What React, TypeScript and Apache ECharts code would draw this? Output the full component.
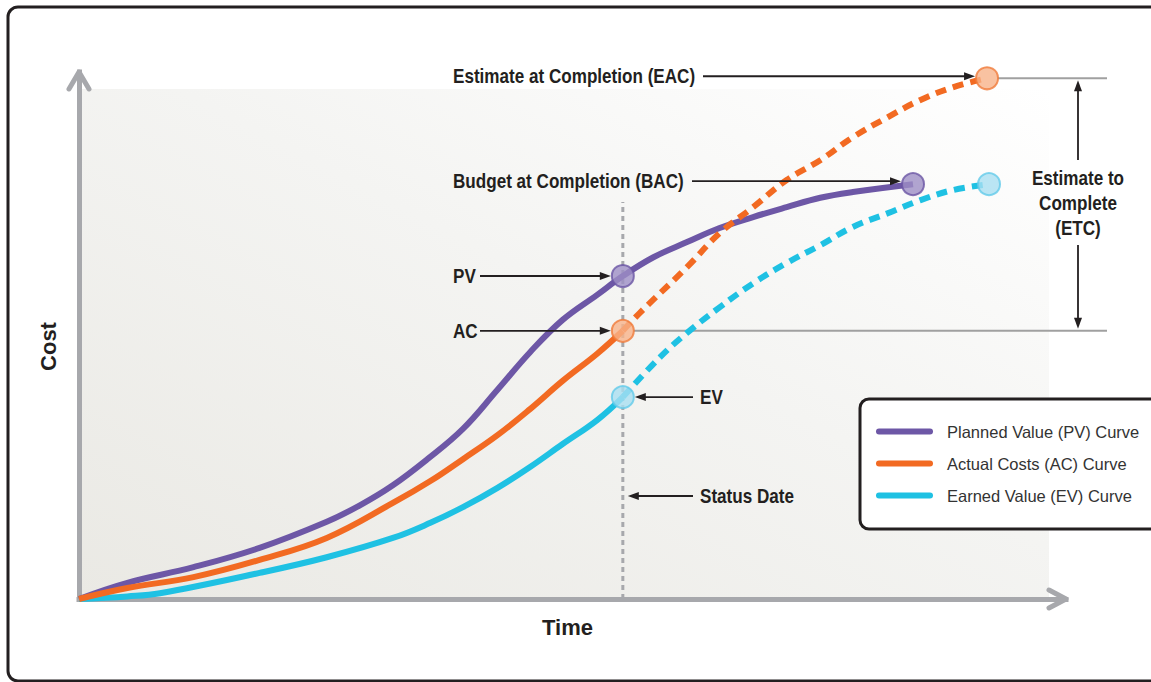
import React, { useEffect, useRef } from "react";
import * as echarts from "echarts";

// ---- data (time / cost units, 0..100 scale) ----
const pvTime = [0, 4.9, 11.6, 18.3, 25.1, 28.5, 31.8, 35.3, 38.9, 42.4, 45.7, 49.0, 52.5, 55.1, 58.2, 61.6, 64.9, 68.3, 71.7, 75.1, 78.4, 84.5];
const pvCost = [0, 3.1, 6.1, 9.8, 14.8, 18.0, 21.8, 26.8, 32.6, 40.1, 47.3, 53.5, 58.3, 61.9, 65.5, 68.4, 71.1, 73.2, 75.1, 76.9, 78.0, 79.5];

const acTime = [0, 4.9, 11.6, 18.3, 25.1, 31.8, 35.6, 38.9, 42.4, 45.7, 49.0, 52.5, 55.1];
const acCost = [0, 2.1, 4.2, 7.5, 11.7, 18.4, 22.6, 26.8, 31.4, 36.4, 41.8, 47.0, 51.4];
const acFcTime = [55.1, 56.8, 61.6, 64.9, 68.3, 71.7, 75.1, 78.4, 81.9, 85.2, 88.6, 92.0];
const acFcCost = [51.4, 54.8, 63.6, 70.1, 75.1, 80.3, 84.1, 88.5, 92.3, 95.6, 98.1, 99.8];

const evTime = [0, 4.9, 8.2, 18.3, 25.1, 31.8, 35.6, 38.9, 42.4, 45.7, 49.0, 52.5, 55.1];
const evCost = [0, 0.5, 1.1, 5.0, 8.0, 11.7, 14.6, 17.6, 21.3, 25.3, 29.7, 34.3, 38.7];
const evFcTime = [55.1, 58.9, 61.6, 64.9, 68.3, 71.7, 75.1, 78.4, 81.9, 85.2, 88.6, 92.2];
const evFcCost = [38.7, 46.4, 51.0, 55.9, 60.5, 64.4, 67.8, 71.3, 73.9, 76.4, 78.4, 79.5];

const statusDate = 55.1;
const statusLineTop = 76.1;
const pvAtStatus = 61.9;
const acAtStatus = 51.4;
const evAtStatus = 38.7;
const bacPoint = [84.5, 79.5];
const eacPoint = [92.0, 99.8];
const evEndPoint = [92.2, 79.5];

const seriesNames = ["Planned Value (PV) Curve", "Actual Costs (AC) Curve", "Earned Value (EV) Curve"];

const PURPLE = "#6D57A6";
const ORANGE = "#F26A22";
const CYAN = "#1FC1E3";
const GRAYAX = "#A7A8AC";
const INK = "#231F20";
const FONT = '"Liberation Sans Narrow", "Arial Narrow", "Liberation Sans", Arial, sans-serif';

const zip = (a: number[], b: number[]) => a.map((v, i) => [v, b[i]]);

export default function App() {
  const ref = useRef<HTMLDivElement>(null);
  useEffect(() => {
    const chart = echarts.init(ref.current!, undefined, { renderer: "svg" });
    const lineBase = { type: "line", smooth: 0.4, symbol: "none", z: 3 };
    chart.setOption({
      animation: false,
      grid: { left: 79, right: 85, top: 72, bottom: 83 },
      xAxis: {
        type: "value", min: 0, max: 100,
        name: "Time", nameLocation: "middle", nameGap: 17,
        nameTextStyle: { fontFamily: FONT, fontSize: 22, fontWeight: "bold", color: INK, padding: [0, 10, 0, 0] },
        axisLine: { show: true, lineStyle: { color: GRAYAX, width: 5, cap: "square" } },
        axisTick: { show: false }, axisLabel: { show: false }, splitLine: { show: false },
      },
      yAxis: {
        type: "value", min: 0, max: 101,
        name: "Cost", nameLocation: "middle", nameGap: 20,
        nameTextStyle: { fontFamily: FONT, fontSize: 22, fontWeight: "bold", color: INK, padding: [0, 0, 0, -22] },
        axisLine: { show: true, lineStyle: { color: GRAYAX, width: 5, cap: "square" } },
        axisTick: { show: false }, axisLabel: { show: false }, splitLine: { show: false },
      },
      legend: {
        data: seriesNames,
        orient: "vertical", left: 860, top: 399,
        icon: "path://M3,0L54,0A3,3,0,0,1,54,6L3,6A3,3,0,0,1,3,0Z",
        itemWidth: 57, itemHeight: 6, itemGap: 15,
        padding: [24, 40, 25, 16],
        borderColor: INK, borderWidth: 3, borderRadius: 9, backgroundColor: "#ffffff",
        selectedMode: false,
        textStyle: { fontFamily: FONT, fontSize: 16.5, color: "#333333", padding: [0, 0, 0, 9] },
      },
      series: [
        {
          name: "Status Date", type: "line", symbol: "none", z: 1,
          data: [[statusDate, 0], [statusDate, statusLineTop]],
          lineStyle: { color: GRAYAX, width: 3, type: [5, 4] },
        },
        { ...lineBase, name: seriesNames[0], color: PURPLE, data: zip(pvTime, pvCost), lineStyle: { width: 6, color: PURPLE } },
        { ...lineBase, name: seriesNames[2], color: CYAN, data: zip(evTime, evCost), lineStyle: { width: 6, color: CYAN } },
        { ...lineBase, name: "EV forecast", color: CYAN, data: zip(evFcTime, evFcCost), lineStyle: { width: 6, color: CYAN, type: [11, 7] } },
        { ...lineBase, name: seriesNames[1], color: ORANGE, data: zip(acTime, acCost), lineStyle: { width: 6, color: ORANGE } },
        { ...lineBase, name: "AC forecast", color: ORANGE, z: 4, data: zip(acFcTime, acFcCost), lineStyle: { width: 6, color: ORANGE, type: [11, 7] } },
        {
          name: "Points", type: "scatter", symbolSize: 22, z: 6,
          data: [
            { value: [statusDate, pvAtStatus], itemStyle: { color: "#9E8FC5", borderColor: "#6A55A4", borderWidth: 2 } },
            { value: [statusDate, acAtStatus], itemStyle: { color: "#F8B38A", borderColor: "#F07A3A", borderWidth: 2 } },
            { value: [statusDate, evAtStatus], itemStyle: { color: "#A9DFF1", borderColor: "#63CBEA", borderWidth: 2 } },
            { value: bacPoint, itemStyle: { color: "#9E8FC5", borderColor: "#6A55A4", borderWidth: 2 } },
            { value: eacPoint, itemStyle: { color: "#F8B38A", borderColor: "#F07A3A", borderWidth: 2 } },
            { value: evEndPoint, itemStyle: { color: "#A9DFF1", borderColor: "#63CBEA", borderWidth: 2 } },
          ],
        },
      ],
    });

    const px = (x: number, y: number) => chart.convertToPixel({ gridIndex: 0 }, [x, y]) as number[];
    const eac = px(eacPoint[0], eacPoint[1]);
    const bac = px(bacPoint[0], bacPoint[1]);
    const pv = px(statusDate, pvAtStatus);
    const ac = px(statusDate, acAtStatus);
    const ev = px(statusDate, evAtStatus);
    const origin = px(0, 0);
    const xEnd = px(100, 0);
    const yEnd = px(0, 101);

    const arrow = (x1: number, y1: number, x2: number, y2: number) => {
      const dx = x2 - x1, dy = y2 - y1;
      const len = Math.hypot(dx, dy);
      const ux = dx / len, uy = dy / len;
      const head = 11, hw = 4;
      const bx = x2 - ux * head, by = y2 - uy * head;
      return [
        { type: "line", z: 20, shape: { x1, y1, x2: bx + ux, y2: by + uy }, style: { stroke: INK, lineWidth: 1.8 } },
        {
          type: "polygon", z: 20,
          shape: { points: [[x2, y2], [bx - uy * hw, by + ux * hw], [bx + uy * hw, by - ux * hw]] },
          style: { fill: INK },
        },
      ];
    };
    const label = (text: string, x: number, y: number, align = "left", size = 20) => ({
      type: "text", x, y, z: 20, scaleX: 0.855,
      style: {
        text, fill: INK, font: `bold ${size}px ${FONT}`,
        align, verticalAlign: "middle", textAlign: align, textVerticalAlign: "middle",
      },
    });
    const chevron = (pts: number[][]) => ({
      type: "polyline", z: 10,
      shape: { points: pts },
      style: { stroke: GRAYAX, lineWidth: 5, lineCap: "round", lineJoin: "round", fill: "none" },
    });

    const leftCol = 453;
    const etcX = 1078;
    const refEnd = 1107;

    chart.setOption({
      graphic: [
        {
          type: "rect", z: -10, silent: true,
          shape: { x: origin[0] + 3, y: 89, width: 1049 - origin[0] - 3, height: origin[1] - 89 - 1 },
          style: {
            fill: new echarts.graphic.LinearGradient(0, 1, 1, 0, [
              { offset: 0, color: "#EAE9E4" },
              { offset: 0.55, color: "#F4F4F2" },
              { offset: 1, color: "#FFFFFF" },
            ]),
          },
        },
        {
          type: "rect", z: 30, silent: true,
          shape: { x: 8, y: 7, width: 1190, height: 674, r: 10 },
          style: { fill: "none", stroke: INK, lineWidth: 3 },
        },
        chevron([[yEnd[0] - 10, yEnd[1] + 17], [yEnd[0], yEnd[1]], [yEnd[0] + 10, yEnd[1] + 17]]),
        chevron([[xEnd[0] - 17, xEnd[1] - 9], [xEnd[0], xEnd[1]], [xEnd[0] - 17, xEnd[1] + 9]]),
        // reference lines
        { type: "line", z: 2, shape: { x1: eac[0] + 11, y1: eac[1], x2: refEnd, y2: eac[1] }, style: { stroke: "#A0A0A0", lineWidth: 2 } },
        { type: "line", z: 2, shape: { x1: ac[0] + 11, y1: ac[1], x2: refEnd, y2: ac[1] }, style: { stroke: "#A0A0A0", lineWidth: 2 } },
        // EAC
        label("Estimate at Completion (EAC)", leftCol, eac[1] - 2),
        ...arrow(703, eac[1] - 2, eac[0] - 12, eac[1] - 2),
        // BAC
        label("Budget at Completion (BAC)", leftCol, bac[1] - 3),
        ...arrow(692, bac[1] - 3, bac[0] - 12, bac[1] - 3),
        // PV / AC
        label("PV", leftCol, pv[1]),
        ...arrow(480, pv[1], pv[0] - 12, pv[1]),
        label("AC", leftCol, ac[1]),
        ...arrow(480, ac[1], ac[0] - 12, ac[1]),
        // EV
        ...arrow(693, ev[1], ev[0] + 12, ev[1]),
        label("EV", 700, ev[1]),
        // Status date
        ...arrow(693, 496, ev[0] + 5, 496),
        label("Status Date", 700, 496),
        // ETC
        ...arrow(etcX, 160, etcX, eac[1] + 2),
        ...arrow(etcX, 245, etcX, ac[1] - 2),
        label("Estimate to", etcX, 178, "center"),
        label("Complete", etcX, 203, "center"),
        label("(ETC)", etcX, 228, "center"),
      ],
    });
    return () => chart.dispose();
  }, []);
  return <div ref={ref} style={{ position: "fixed", left: 0, top: 0, width: 1151, height: 682, background: "#fff" }} />;
}
